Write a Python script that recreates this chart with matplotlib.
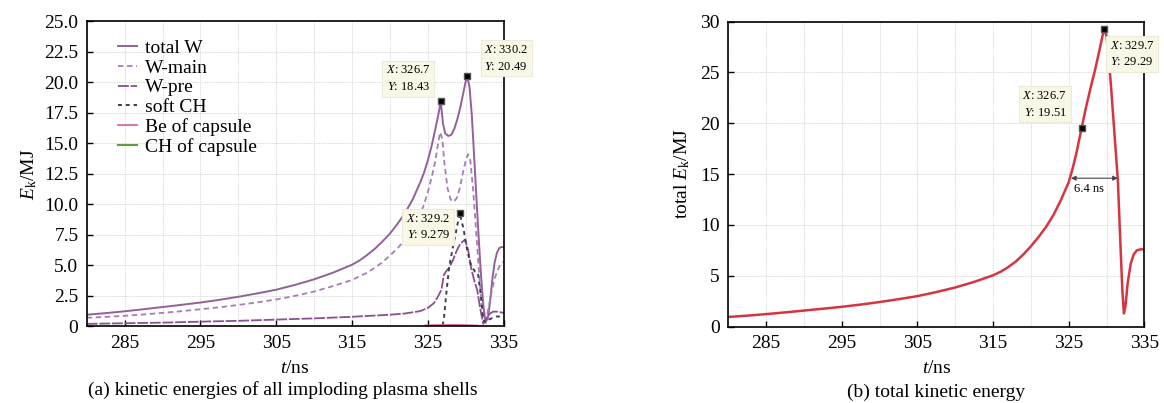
import matplotlib.pyplot as plt
from matplotlib.ticker import MultipleLocator, FuncFormatter

plt.rcParams["font.family"] = ["Liberation Serif", "DejaVu Serif"]
plt.rcParams["mathtext.fontset"] = "custom"
plt.rcParams["mathtext.rm"] = "Liberation Serif"
plt.rcParams["mathtext.it"] = "Liberation Serif:italic"

# (a) kinetic energies of each shell
t_total_w = [280, 282.5, 285, 287.5, 290, 292.5, 295, 297.5, 300, 302.5, 305, 307.5,
             310, 312.5, 315, 316, 317, 318, 319, 320, 321, 322, 323, 324, 324.5,
             325, 325.5, 326, 326.4, 326.7, 327.0, 327.3, 327.7, 328.1, 328.5,
             328.9, 329.3, 329.7, 330.0, 330.2, 330.5, 330.8, 331.1, 331.4, 331.7,
             332.0, 332.3, 332.6, 332.9, 333.2, 333.5, 333.8, 334.1, 334.4, 334.7, 335]
e_total_w = [0.95, 1.08, 1.23, 1.4, 1.58, 1.76, 1.95, 2.17, 2.42, 2.7, 3.0, 3.4,
             3.85, 4.4, 5.05, 5.4, 5.85, 6.35, 6.95, 7.6, 8.4, 9.3, 10.4, 11.8, 12.6,
             13.6, 14.8, 16.2, 17.4, 18.43, 16.6, 15.8, 15.6, 15.7, 16.2,
             17.0, 18.0, 19.2, 20.1, 20.49, 19.6, 17.3, 14.0, 10.6, 7.3,
             4.3, 1.8, 0.4, 0.6, 2.0, 3.8, 5.2, 6.0, 6.4, 6.5, 6.5]

t_w_main = [280, 282.5, 285, 287.5, 290, 292.5, 295, 297.5, 300, 302.5, 305, 307.5,
            310, 312.5, 315, 317, 318, 319, 320, 321, 322, 323, 324, 324.5, 325,
            325.5, 326, 326.3, 326.6, 326.9, 327.2, 327.6, 328.0, 328.4, 328.8,
            329.2, 329.6, 330.0, 330.3, 330.6, 331.0, 331.4, 331.8, 332.1, 332.4,
            332.7, 333.0, 333.4, 333.8, 334.2, 334.6, 335]
e_w_main = [0.7, 0.77, 0.86, 0.97, 1.1, 1.24, 1.4, 1.56, 1.75, 1.96, 2.2, 2.5,
            2.85, 3.3, 3.8, 4.4, 4.8, 5.25, 5.8, 6.4, 7.1, 8.0, 9.2, 10.0, 11.0,
            12.2, 13.6, 14.8, 15.9, 15.4, 13.3, 11.3, 10.4, 10.2, 10.5,
            11.3, 12.5, 13.6, 14.1, 13.6, 11.0, 7.5, 4.0, 1.8, 0.4,
            0.6, 1.5, 2.8, 3.9, 4.6, 5.1, 5.3]

t_w_pre = [280, 285, 290, 295, 300, 305, 310, 315, 320, 322, 324, 325, 325.8, 326.3,
           326.8, 327.1, 327.4, 327.8, 328.3, 328.8, 329.3, 329.9, 330.3, 330.7,
           331.1, 331.5, 331.9, 332.3, 332.7, 333.1, 333.6, 334.2, 335]
e_w_pre = [0.2, 0.25, 0.3, 0.38, 0.45, 0.55, 0.65, 0.78, 0.95, 1.05, 1.25, 1.5, 1.9, 2.4,
           3.0, 4.2, 4.5, 4.8, 5.4, 6.2, 6.8, 7.1, 6.3, 4.8,
           3.8, 3.0, 1.5, 0.2, 0.6, 1.0, 1.2, 1.2, 1.1]

t_soft_ch = [326.0, 326.9, 327.1, 327.4, 327.8, 328.3, 328.8, 329.2, 329.7, 330.2,
             330.7, 331.2, 331.6, 332.0, 332.3, 332.7, 333.2, 334.0, 335]
e_soft_ch = [0.0, 0.0, 0.5, 2.5, 4.8, 6.5, 8.0, 9.279, 8.0, 6.2,
             5.0, 4.5, 4.4, 2.5, 0.5, 0.3, 0.6, 0.8, 0.8]

t_capsule = [324.7, 326, 328, 330, 331.6]
e_be_capsule = [0.08, 0.1, 0.12, 0.1, 0.06]
e_ch_capsule = [0.02, 0.03, 0.03, 0.03, 0.02]

# (b) total kinetic energy
t_total = [280, 282.5, 285, 287.5, 290, 292.5, 295, 297.5, 300, 302.5, 305, 307.5,
           310, 312.5, 315, 316, 317, 318, 319, 320, 321, 322, 323, 324, 325,
           325.5, 326, 326.7, 327.3, 327.9, 328.5, 329.1, 329.5, 329.7, 330.0,
           330.3, 330.6, 331.0, 331.5, 331.9, 332.1, 332.3, 332.5, 332.8, 333.2,
           333.6, 334.0, 334.5, 335]
e_total = [0.95, 1.08, 1.23, 1.4, 1.58, 1.76, 1.95, 2.17, 2.42, 2.7, 3.0, 3.4,
           3.85, 4.4, 5.05, 5.4, 5.85, 6.4, 7.1, 7.9, 8.8, 9.8, 11.0, 12.5, 14.2,
           15.5, 17.0, 19.51, 21.6, 23.5, 25.3, 27.3, 28.7, 29.29, 28.6,
           26.3, 23.6, 19.5, 14.4, 7.0, 3.5, 1.3, 2.0, 4.3, 6.2,
           7.1, 7.5, 7.6, 7.6]

tips_a_x = [326.7, 330.2, 329.2]
tips_a_y = [18.43, 20.49, 9.279]
tips_b_x = [329.7, 326.7]
tips_b_y = [29.29, 19.51]
fwhm_start, fwhm_end, fwhm_level = 325.3, 331.5, 14.6

fig = plt.figure(figsize=(11.64, 4.03), dpi=100)
ax1 = fig.add_axes([0.0745, 0.1903, 0.3582, 0.7568])
ax2 = fig.add_axes([0.6257, 0.1895, 0.3574, 0.7568])

ax1.plot(t_total_w, e_total_w, color="#93609a", lw=1.4, label="total W")
ax1.plot(t_w_main, e_w_main, color="#a77db5", lw=1.3, ls=(0, (3, 2)), label="W-main")
ax1.plot(t_w_pre, e_w_pre, color="#8a5090", lw=1.3, ls=(0, (6, 1)), label="W-pre")
ax1.plot(t_soft_ch, e_soft_ch, color="#3c3c55", lw=1.4, ls=(0, (2, 2)), label="soft CH")
ax1.plot(t_capsule, e_be_capsule, color="#e06a8a", lw=1.3, label="Be of capsule")
ax1.plot(t_capsule, e_ch_capsule, color="#d88030", lw=1.3)
ax1.plot([], [], color="#5aa040", lw=1.5, label="CH of capsule")

ax2.plot(t_total, e_total, color="#d63440", lw=1.8)

ax1.plot(tips_a_x, tips_a_y, "s", color="black", ms=4.5, mec="#555555", ls="none")
ax2.plot(tips_b_x, tips_b_y, "s", color="black", ms=4.5, mec="#555555", ls="none")


def tip(ax, x, y, dx, dy, ha, va):
    ax.annotate(f"$X$: {x}\n$Y$: {y}", xy=(x, y), xytext=(dx, dy),
                textcoords="offset pixels", ha=ha, va=va, fontsize=9,
                linespacing=1.5, annotation_clip=False,
                bbox=dict(boxstyle="square,pad=0.3", fc="#f9f8e6", ec="#ebebd8", lw=0.8))


p = 3.7
tip(ax1, tips_a_x[0], tips_a_y[0], -6.7 - p, 5 + p, "right", "bottom")
tip(ax1, tips_a_x[1], tips_a_y[1], 13.4 + p, p, "left", "bottom")
tip(ax1, tips_a_x[2], tips_a_y[2], -6 - p, 4.3 - p, "right", "top")
tip(ax2, tips_b_x[0], tips_b_y[0], 2 + p, -7.3 - p, "left", "top")
tip(ax2, tips_b_x[1], tips_b_y[1], -11 - p, 6 + p, "right", "bottom")

ax2.annotate("", xy=(fwhm_start, fwhm_level), xytext=(fwhm_end, fwhm_level),
             arrowprops=dict(arrowstyle="<|-|>", color="#444444", lw=0.8,
                             mutation_scale=7, shrinkA=0, shrinkB=0))
ax2.annotate("6.4 ns", xy=(fwhm_start, fwhm_level), xytext=(3, -5),
             textcoords="offset pixels", ha="left", va="top", fontsize=9)

for ax in (ax1, ax2):
    ax.set_xlim(280, 335)
    ax.xaxis.set_minor_locator(MultipleLocator(5))
    ax.set_xticks([285, 295, 305, 315, 325, 335])
    ax.tick_params(direction="in", length=4, width=1, labelsize=14, pad=6)
    ax.tick_params(which="minor", length=0)
    ax.grid(True, which="both", color="#dcdcdc", lw=0.7, ls=(0, (1.5, 1)))
    ax.set_axisbelow(True)
    for s in ax.spines.values():
        s.set_linewidth(1.2)
    ax.set_xlabel("$t$/ns", fontsize=14, labelpad=6)

ax1.set_ylim(0, 25)
ax1.yaxis.set_major_locator(MultipleLocator(2.5))
ax1.yaxis.set_major_formatter(FuncFormatter(lambda v, _: "0" if v == 0 else f"{v:.1f}"))
ax1.set_ylabel(r"$E_\mathrm{k}$/MJ", fontsize=14, labelpad=4)

ax2.set_ylim(0, 30)
ax2.yaxis.set_major_locator(MultipleLocator(5))
ax2.set_ylabel(r"total $E_\mathrm{k}$/MJ", fontsize=14, labelpad=6)

ax1.legend(loc="upper left", bbox_to_anchor=(0.075, 0.94), frameon=False,
           fontsize=14, labelspacing=0.1, handlelength=1.0, handletextpad=0.4,
           borderpad=0, borderaxespad=0)

ax1.text(0.47, -0.209, "(a) kinetic energies of all imploding plasma shells",
         transform=ax1.transAxes, ha="center", va="center", fontsize=14)
ax2.text(0.5, -0.215, "(b) total kinetic energy",
         transform=ax2.transAxes, ha="center", va="center", fontsize=14)

fig.savefig("out.png", dpi=100)
